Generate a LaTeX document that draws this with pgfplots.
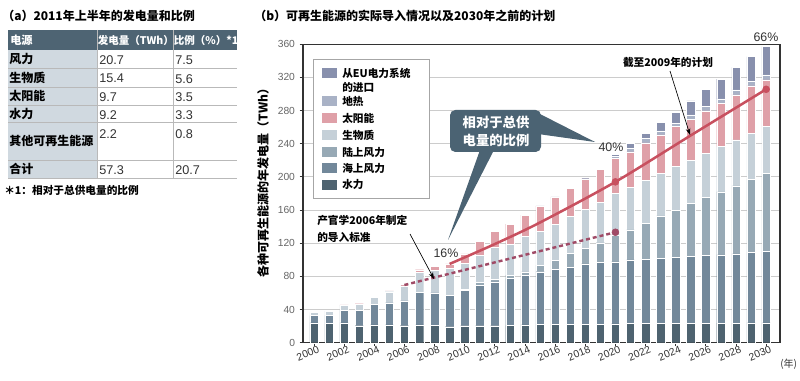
\documentclass[border=0pt]{standalone}
\usepackage{fontspec}
\setmainfont{Liberation Sans}
\newfontfamily\cjk{Noto Sans CJK SC}
\usepackage{pgfplots}
\pgfplotsset{compat=1.18}
\usepackage{pgfplotstable}
\usetikzlibrary{arrows.meta}
\newcommand\fs[1]{\fontsize{#1}{#1}\selectfont}
\definecolor{cHydro}{HTML}{4E6370}
\definecolor{cOff}{HTML}{72889A}
\definecolor{cOn}{HTML}{97A9B5}
\definecolor{cBio}{HTML}{C5D0D8}
\definecolor{cSolar}{HTML}{DFA0A8}
\definecolor{cGeo}{HTML}{A9B2C6}
\definecolor{cImp}{HTML}{8890AD}
\definecolor{cLine}{HTML}{C8505F}
\definecolor{cDash}{HTML}{A04A66}
\definecolor{cBox}{HTML}{4B6373}
\definecolor{cHead}{HTML}{4E6473}
\definecolor{cCol}{HTML}{D0D9E0}
\pgfplotstableread{
year hydro off on bio solar geo imp
2000 24 8.6 0 4 0 0 0
2001 23 10 0 5 0 0 0
2002 24 15 0 6 0.5 0 0
2003 20.5 18.5 0 7.5 0.5 0 0
2004 21.5 25 0 8.5 1 0 0
2005 21.5 26.5 0 13.5 1 0 0
2006 20.5 30 0 18 2 0 0
2007 21.5 39.5 0 24 3 0 0
2008 21 39 0 27.5 5 0 0
2009 19.3 37.7 0 33 5 0 0
2010 20.5 43 1 31.5 11 0 0
2011 20.5 49 3 33 16.5 0 0
2012 20.5 53 3.2 38.3 19 0 0
2013 21 56.6 4 37.4 24 0 0
2014 21.5 60 4 42.5 26 0 0
2015 22 63.6 8 41 30 0.4 0
2016 22 66.5 11 43.5 32 1 0
2017 22 69 17 44 34 1 0
2018 22.5 72.5 19 47 36.5 1.5 0
2019 22.5 74.5 23.6 48.4 40 1.5 0
2020 22.6 75 32.3 50 42 2.5 2.6
2021 23 77 36 51 43 4 6
2022 23 77.5 43.5 52 45 5.5 6
2023 23.3 78.7 51 51 46.5 5 10.5
2024 23.5 79.5 57 53 47.6 4 13.4
2025 23.5 80.5 64 52 49.4 5.2 16.9
2026 23.5 81.5 70 53.4 51.1 5.2 20.9
2027 23.5 82.5 76 54.5 52.2 5.3 24
2028 23.5 83.5 82 55.5 54.3 6 27.2
2029 23.8 84.8 88.8 55.1 57.1 5.2 30.2
2030 24 86 94 56.6 56.4 6 34
}\data
\begin{document}
\begin{tikzpicture}
\begin{scope}[x=0.75pt,y=-0.75pt]
\path[use as bounding box, fill=white] (0,0) rectangle (800,381);
% titles
\node[anchor=west, inner sep=0] at (2,16) {\cjk\bfseries\fs{9}（a）2011年上半年的发电量和比例};
\node[anchor=west, inner sep=0] at (254,16) {\cjk\bfseries\fs{9}（b）可再生能源的实际导入情况以及2030年之前的计划};
% table
\fill[cHead] (8,30) rectangle (237,50);
\fill[cCol] (8,50) rectangle (97,178.3);
\foreach \yy in {68.3,87,105,122.7,160,178.3}
  \draw[gray!55, line width=0.6pt] (8,\yy) -- (237,\yy);
\draw[gray!55, line width=0.6pt] (97,30) -- (97,178.3);
\draw[gray!55, line width=0.6pt] (173,30) -- (173,178.3);
\node[anchor=west, inner sep=0, text=white] at (10,40) {\cjk\bfseries\fs{8.4}电源};
\node[anchor=west, inner sep=0, text=white] at (97.5,40) {\cjk\bfseries\fs{7.9}发电量（TWh）};
\node[anchor=west, inner sep=0, text=white] at (173.5,40) {\cjk\bfseries\fs{7.9}比例（\%）*1};
\foreach \yc/\lab in {59/风力, 77.7/生物质, 96/太阳能, 114/水力, 141/其他可再生能源, 169/合计}
  \node[anchor=west, inner sep=0] at (9,\yc) {\cjk\bfseries\fs{9}\lab};
\foreach \yc/\a/\b in {60/20.7/7.5, 78.7/15.4/5.6, 97/9.7/3.5, 115/9.2/3.3, 134/2.2/0.8, 170/57.3/20.7}{
  \node[anchor=west, inner sep=0, text=black!80] at (99,\yc) {\fs{9.5}\a};
  \node[anchor=west, inner sep=0, text=black!80] at (175,\yc) {\fs{9.5}\b};
}
\node[anchor=west, inner sep=0] at (4,190) {\cjk\bfseries\fs{8}＊1：相对于总供电量的比例};
\end{scope}
% bars
\begin{axis}[
  at={(227.25pt,-257.03pt)}, anchor=south west,
  scale only axis, width=357.75pt, height=223.9pt,
  xmin=1999.27, xmax=2030.92, ymin=0, ymax=360,
  ybar stacked, bar width=6.3pt,
  xtick={2000,2002,...,2030}, ytick={0,40,...,360},
  ymajorgrids, grid style={gray!40, line width=0.6pt},
  axis line style={black!80, line width=0.8pt},
  tick style={black!80, line width=0.6pt},
  tick align=outside, major tick length=2.5pt,
  xtick pos=bottom, ytick pos=left,
  /pgf/number format/assume math mode=true,
  /pgf/number format/set thousands separator={},
  x tick label style={rotate=22, anchor=north east, font=\fs{7.8}, text=black!80, inner sep=0.5pt, xshift=3pt},
  y tick label style={font=\fs{7.7}, text=black!60},
  enlargelimits=false, clip=false,
]
\addplot[fill=cHydro, draw=white, line width=0.3pt] table[x=year,y=hydro]{\data};
\addplot[fill=cOff, draw=white, line width=0.3pt] table[x=year,y=off]{\data};
\addplot[fill=cOn, draw=white, line width=0.3pt] table[x=year,y=on]{\data};
\addplot[fill=cBio, draw=white, line width=0.3pt] table[x=year,y=bio]{\data};
\addplot[fill=cSolar, draw=white, line width=0.3pt] table[x=year,y=solar]{\data};
\addplot[fill=cGeo, draw=white, line width=0.3pt] table[x=year,y=geo]{\data};
\addplot[fill=cImp, draw=white, line width=0.3pt] table[x=year,y=imp]{\data};
\end{axis}
% lines
\begin{axis}[
  at={(227.25pt,-257.03pt)}, anchor=south west,
  scale only axis, width=357.75pt, height=223.9pt,
  xmin=1999.27, xmax=2030.92, ymin=0, ymax=360,
  axis lines=none, ticks=none, clip=false,
]
\addplot[cDash, line width=1.8pt, dash pattern=on 3pt off 2.2pt] coordinates {(2006,69.6) (2020,133.2)};
\addplot[cDash, only marks, mark=*, mark size=2.6pt] coordinates {(2020,133.2)};
\addplot[cLine, line width=1.9pt, smooth] coordinates {(2009,95) (2012,119) (2015,145) (2020,194) (2025,250) (2030,305.6)};
\addplot[cLine, only marks, mark=*, mark size=2.6pt] coordinates {(2020,194) (2030,305.6)};
\end{axis}
\begin{scope}[x=0.75pt,y=-0.75pt]
% y label
\node[rotate=90, inner sep=0] at (263,180) {\cjk\bfseries\fs{9}各种可再生能源的年发电量（TWh）};
\node[anchor=west, inner sep=0, text=black!80] at (780,364) {\cjk\fs{7.5}(年)};
% legend
\draw[gray!70, fill=white, line width=0.6pt] (313,59) rectangle (429,198);
\foreach \yc/\c in {73/cImp, 101.3/cGeo, 118/cSolar, 135.3/cBio, 152/cOn, 168/cOff, 184.7/cHydro}
  \fill[\c] (321.5,\yc-5) rectangle (337,\yc+5);
\foreach \yc/\lab in {73/从EU电力系统, 87/的进口, 101.3/地热, 118/太阳能, 135.3/生物质, 152/陆上风力, 168/海上风力, 184.7/水力}
  \node[anchor=west, inner sep=0] at (342,\yc) {\cjk\bfseries\fs{8}\lab};
% callout
\fill[cBox] (480,150) -- (494,150) -- (448,240) -- cycle;
\fill[cBox] (538,113) -- (595,142) -- (538,134) -- cycle;
\fill[cBox, rounded corners=4] (450,110) rectangle (541,152);
\node[text=white, inner sep=0] at (496,122) {\cjk\bfseries\fs{10}相对于总供};
\node[text=white, inner sep=0] at (496,140) {\cjk\bfseries\fs{10}电量的比例};
% annotations
\node[inner sep=0] at (668,62) {\cjk\bfseries\fs{8}截至2009年的计划};
\draw[-{Stealth[length=5pt,width=3.5pt]}, line width=0.5pt] (670,71) -- (690,135);
\node[anchor=west, inner sep=0] at (317,220) {\cjk\bfseries\fs{8}产官学2006年制定};
\node[anchor=west, inner sep=0] at (317,237) {\cjk\bfseries\fs{8}的导入标准};
\draw[-{Stealth[length=5pt,width=3.5pt]}, line width=0.5pt] (410,234) -- (434,279);
\node[inner sep=0, text=black!80] at (446,253) {\fs{9.3}16\%};
\node[inner sep=0, text=black!80] at (611,147) {\fs{9.3}40\%};
\node[inner sep=0, text=black!80] at (766,37) {\fs{9.3}66\%};
\end{scope}
\end{tikzpicture}
\end{document}
